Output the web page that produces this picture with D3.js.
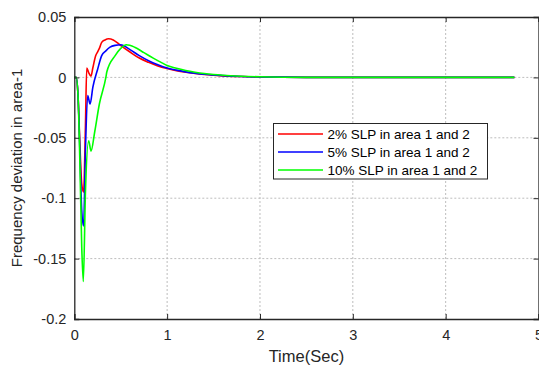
<!DOCTYPE html>
<html><head><meta charset="utf-8">
<script src="https://cdn.jsdelivr.net/npm/d3@7"></script>
<style>body{margin:0;background:#fff}svg{display:block}text{font-family:"Liberation Sans",Arial,sans-serif}</style>
</head><body><svg id="c" width="539" height="365"></svg>
<script>
const xTicks = [0,1,2,3,4,5];
const yTicks = [0.05,0,-0.05,-0.1,-0.15,-0.2];
const yTickLabels = ["0.05","0","-0.05","-0.1","-0.15","-0.2"];
const seriesNames = ["2% SLP in area 1 and 2","5% SLP in area 1 and 2","10% SLP in area 1 and 2"];
const seriesColors = ["#ff0000","#0000ff","#00ff00"];

const redT = [0,0.02,0.04,0.06,0.08,0.1,0.12,0.134,0.155,0.18,0.2,0.23,0.25,0.27,0.295,0.33,0.37,0.42,0.49,0.6,0.7,0.8,0.9,1.0,1.1,1.2,1.3,1.4,1.5,1.6,1.8,2.0,2.5,3,3.5,4,4.74];
const redV = [0,0,-0.015,-0.055,-0.088,-0.095,-0.04,0.0078,0.004,0.001,0.008,0.018,0.021,0.024,0.029,0.031,0.032,0.031,0.027,0.021,0.016,0.0125,0.0095,0.0073,0.0055,0.0042,0.0032,0.0024,0.0018,0.0013,0.0007,0.0003,0,0,0,0,0];
const blueT = [0,0.02,0.04,0.06,0.08,0.1,0.12,0.144,0.17,0.2,0.25,0.295,0.34,0.385,0.44,0.5,0.6,0.7,0.8,0.9,1.0,1.1,1.2,1.3,1.4,1.5,1.6,1.8,2.0,2.5,3,3.5,4,4.74];
const blueV = [0,0,-0.015,-0.06,-0.11,-0.123,-0.06,-0.015,-0.022,-0.008,0.0064,0.018,0.022,0.025,0.0265,0.027,0.023,0.018,0.0138,0.0105,0.0078,0.006,0.0046,0.0035,0.0026,0.002,0.0015,0.0008,0.0004,0,0,0,0,0];
const greenT = [0,0.02,0.04,0.06,0.08,0.097,0.12,0.155,0.18,0.22,0.27,0.34,0.35,0.44,0.5,0.56,0.65,0.75,0.85,0.95,1.0,1.1,1.2,1.3,1.4,1.5,1.6,1.8,2.0,2.5,3,3.5,4,4.74];
const greenV = [0,0,-0.015,-0.07,-0.14,-0.169,-0.095,-0.0525,-0.061,-0.045,-0.022,0,0.0045,0.018,0.024,0.027,0.025,0.0205,0.016,0.0118,0.0098,0.0075,0.0057,0.0043,0.0032,0.0024,0.0018,0.001,0.0005,0,0,0,0,0];

const series = [[redT,redV],[blueT,blueV],[greenT,greenV]].map(([t,v],i)=>({name:seriesNames[i],color:seriesColors[i],pts:t.map((d,j)=>[d,v[j]])}));

const L=74.3,R=538.5,T=17,B=319;
const svg=d3.select("#c");
const x=d3.scaleLinear().domain([0,5]).range([L,R]);
const y=d3.scaleLinear().domain([-0.2,0.05]).range([B,T]);

// grid
const g=svg.append("g");
g.selectAll(".vx").data(xTicks.filter(d=>d>0&&d<5)).enter().append("line")
 .attr("x1",d=>x(d)).attr("x2",d=>x(d)).attr("y1",T).attr("y2",B)
 .attr("stroke","#bdbdbd").attr("stroke-width",1).attr("stroke-dasharray","2,2");
g.selectAll(".hy").data(yTicks.filter(d=>d>-0.2&&d<0.05)).enter().append("line")
 .attr("y1",d=>y(d)).attr("y2",d=>y(d)).attr("x1",L).attr("x2",R)
 .attr("stroke","#bdbdbd").attr("stroke-width",1).attr("stroke-dasharray","2,2");

// lines
const line=d3.line().x(d=>x(d[0])).y(d=>y(d[1])).curve(d3.curveMonotoneX);
svg.append("g").selectAll("path").data(series).enter().append("path")
 .attr("d",d=>line(d.pts)).attr("fill","none").attr("stroke",d=>d.color).attr("stroke-width",1.6);

// axes
const fmtY=d=>yTickLabels[yTicks.indexOf(d)];
const ax=svg.append("g").attr("transform",`translate(0,${B})`).call(d3.axisBottom(x).tickValues(xTicks).tickSize(-5).tickPadding(11).tickFormat(d3.format("d")));
const ay=svg.append("g").attr("transform",`translate(${L},0)`).call(d3.axisLeft(y).tickValues(yTicks).tickSize(-5).tickPadding(8).tickFormat(fmtY));
const at=svg.append("g").attr("transform",`translate(0,${T})`).call(d3.axisTop(x).tickValues(xTicks).tickSize(-5).tickFormat(""));
const ar=svg.append("g").attr("transform",`translate(${R},0)`).call(d3.axisRight(y).tickValues(yTicks).tickSize(-5).tickFormat(""));
[ax,ay,at,ar].forEach(a=>{a.select(".domain").attr("stroke","#262626").attr("stroke-width",1.3);a.selectAll(".tick line").attr("stroke","#262626");a.selectAll("text").attr("font-size",14.5).attr("fill","#262626").attr("font-family","'Liberation Sans',Arial,sans-serif");});

svg.append("text").attr("x",(L+R)/2).attr("y",362).attr("text-anchor","middle").attr("font-size",16.5).attr("fill","#262626").text("Time(Sec)");
svg.append("text").attr("transform",`translate(22,${(T+B)/2}) rotate(-90)`).attr("text-anchor","middle").attr("font-size",15).attr("fill","#262626").text("Frequency deviation in area-1");

// legend
const lg=svg.append("g");
lg.append("rect").attr("x",273.5).attr("y",123.5).attr("width",214).attr("height",55.5).attr("fill","#fff").attr("stroke","#262626").attr("stroke-width",1);
series.forEach((s,i)=>{
 const yy=134+i*18;
 lg.append("line").attr("x1",278).attr("x2",323).attr("y1",yy).attr("y2",yy).attr("stroke",s.color).attr("stroke-width",1.6);
 lg.append("text").attr("x",327.5).attr("y",yy+5).attr("font-size",13.5).attr("fill","#000").text(s.name);
});
</script></body></html>
